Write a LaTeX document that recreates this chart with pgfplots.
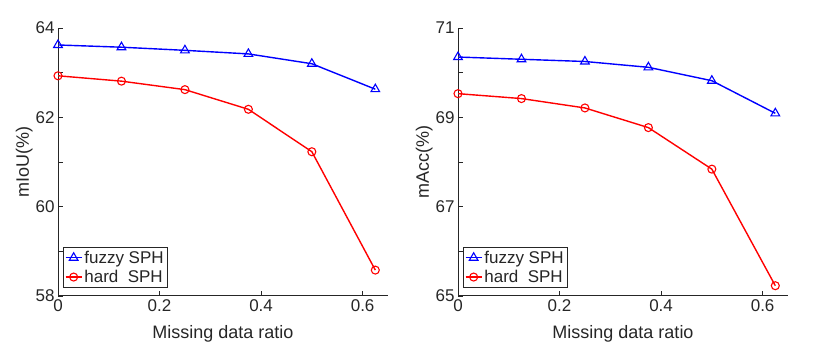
\documentclass[border=0pt]{standalone}
\usepackage{pgfplots}
\pgfplotsset{compat=1.18}
\usepackage{fontspec}
\setmainfont{Liberation Sans}
\definecolor{axgray}{RGB}{38,38,38}
\pgfplotsset{
  myax/.style={
    width=330pt, height=268pt, scale only axis,
    xmin=0, xmax=0.65,
    axis lines*=left,
    axis line style={-, axgray, line width=1pt},
    tick style={axgray, line width=0.8pt},
    tick align=inside,
    major tick length=5pt,
    xtick={0,0.2,0.4,0.6},
    xticklabels={0,0.2,0.4,0.6},
    ticklabel style={font=\fontsize{17}{19}\selectfont, text=axgray},
    label style={font=\fontsize{18}{20}\selectfont, text=axgray},
    /pgf/number format/assume math mode=true,
    xlabel={Missing data ratio},
    xlabel style={yshift=-7pt},
    ylabel style={yshift=-4pt},
    legend style={at={(0.015,0.03)}, anchor=south west, font=\fontsize{17}{19}\selectfont,
      draw=axgray, line width=1pt, inner sep=1.5pt, row sep=1.5pt, cells={anchor=west}, text=axgray},
    legend cell align=left,
    legend image code/.code={\draw[mark repeat=2,mark phase=2] plot coordinates {(0pt,0pt)(8pt,0pt)(16pt,0pt)};},
  },
  fz/.style={blue, line width=1.4pt, mark=triangle, mark size=5pt, mark options={solid, line width=1.1pt}},
  hd/.style={red, line width=1.4pt, mark=o, mark size=4pt, mark options={solid, line width=1.1pt}},
}
\begin{document}
\begin{tikzpicture}
\useasboundingbox (0,0) rectangle (818pt,358pt);
\begin{axis}[myax, at={(58pt,62pt)}, anchor=south west,
  ymin=58, ymax=64, ytick={58,59,60,61,62,63,64}, yticklabels={58,,60,,62,,64},
  ylabel={mIoU(\%)}]
\addplot[fz] coordinates {(0,63.62) (0.125,63.57) (0.25,63.50) (0.375,63.42) (0.5,63.20) (0.625,62.63)};
\addlegendentry{fuzzy SPH}
\addplot[hd] coordinates {(0,62.93) (0.125,62.81) (0.25,62.62) (0.375,62.18) (0.5,61.23) (0.625,58.58)};
\addlegendentry{hard\ \ SPH}
\end{axis}
\begin{axis}[myax, at={(458pt,62pt)}, anchor=south west,
  ymin=65, ymax=71, ytick={65,66,67,68,69,70,71}, yticklabels={65,,67,,69,,71},
  ylabel={mAcc(\%)}]
\addplot[fz] coordinates {(0,70.35) (0.125,70.30) (0.25,70.25) (0.375,70.12) (0.5,69.82) (0.625,69.09)};
\addlegendentry{fuzzy SPH}
\addplot[hd] coordinates {(0,69.53) (0.125,69.42) (0.25,69.21) (0.375,68.77) (0.5,67.84) (0.625,65.23)};
\addlegendentry{hard\ \ SPH}
\end{axis}
\end{tikzpicture}
\end{document}
